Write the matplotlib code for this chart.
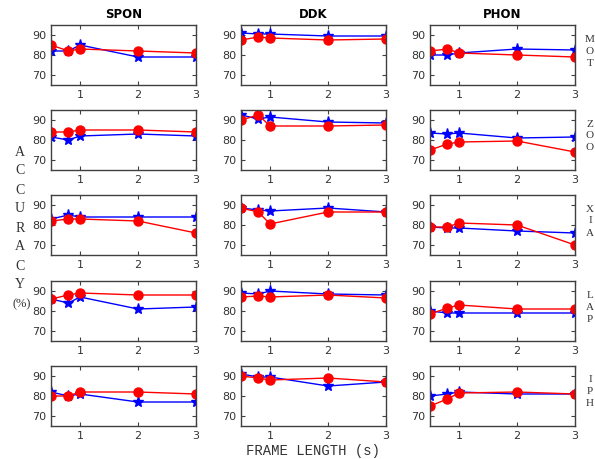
import matplotlib
matplotlib.use("Agg")
import matplotlib.pyplot as plt

# ==============================================================
# DATA
# ==============================================================

frame_len = [0.5, 0.8, 1.0, 2.0, 3.0]
tasks = ["SPON", "DDK", "PHON"]
groups = ["MOT", "ZOO", "XIA", "LAP", "IPH"]

# red circles, one row per group, one list per task
red = {
    "MOT": [[85, 82, 83, 82, 81], [87.5, 89, 88.5, 87.5, 88], [82, 83, 81, 80, 79]],
    "ZOO": [[84, 84, 85, 85, 84], [90, 92.5, 87, 87, 87.5], [75, 78, 79, 79.5, 74]],
    "XIA": [[82, 83, 83, 82, 76], [88.5, 86.5, 80.5, 86.5, 86.5], [79, 79, 81, 80, 70]],
    "LAP": [[86, 88, 89, 88, 88], [87, 87.5, 87, 88, 86.5], [78.5, 81.5, 83, 81, 81]],
    "IPH": [[80, 80, 82, 82, 81], [90, 89, 88, 89, 87], [75, 78.5, 81.5, 82, 81]],
}
# blue stars
blue = {
    "MOT": [[82, 82, 85, 79, 79], [91, 90.5, 90.5, 89.5, 89.5], [80, 80, 81, 83, 82.5]],
    "ZOO": [[81.5, 80, 82, 83, 82], [92.5, 90.5, 91.5, 89, 88.5], [83.5, 83, 83.5, 81, 81.5]],
    "XIA": [[83, 85, 84, 84, 84], [88.5, 87.5, 87, 88.5, 86.5], [79, 78.5, 78.5, 77, 76]],
    "LAP": [[86, 84, 87, 81, 82], [89, 88.5, 90, 88.5, 88], [80, 79, 79, 79, 79]],
    "IPH": [[82, 80, 81, 77, 77], [91, 89.5, 89.5, 85, 87], [80, 81, 82, 81, 81]],
}

# ==============================================================
# FIGURE
# ==============================================================

W, H = 595, 459
fig = plt.figure(figsize=(W / 100, H / 100), dpi=100)

col_left = [51, 241, 430]
col_w = 145
row_top = [25, 110, 195, 281, 366]
row_h = 60

for r, g in enumerate(groups):
    for c, task in enumerate(tasks):
        ax = fig.add_axes([col_left[c] / W, 1 - (row_top[r] + row_h) / H,
                           col_w / W, row_h / H])
        ax.plot(frame_len, blue[g][c], color="blue", marker="*",
                markersize=8, linewidth=1.0)
        ax.plot(frame_len, red[g][c], color="red", marker="o",
                markersize=6.5, linewidth=1.0)
        ax.set_xlim(0.5, 3)
        ax.set_ylim(65, 95)
        ax.set_xticks([1, 2, 3])
        ax.set_yticks([70, 80, 90])
        ax.tick_params(direction="in", top=True, right=True, length=3,
                       labelsize=8, colors="#404040", labelcolor="#333333")
        for sp in ax.spines.values():
            sp.set_color("#404040")
            sp.set_linewidth(1.0)
        if r == 0:
            ax.set_title(task, fontsize=8.5, fontweight="bold", pad=5)

# right-side group labels (stacked letters)
for r, g in enumerate(groups):
    yc = row_top[r] + 26
    for i, ch in enumerate(g):
        fig.text(590 / W, 1 - (yc - 12 + 12 * i) / H, ch, ha="center",
                 va="center", fontsize=8, family="Liberation Serif",
                 color="#333333")

# left-side label
for i, ch in enumerate("ACCURACY"):
    fig.text(20 / W, 1 - (152 + 19 * i) / H, ch, ha="center", va="center",
             fontsize=10, family="Liberation Serif", color="#333333")
fig.text(22 / W, 1 - 304 / H, "(%)", ha="center", va="center",
         fontsize=9, family="Liberation Serif", color="#333333")

fig.text(313 / W, 1 - 451 / H, "FRAME LENGTH (s)", ha="center",
         va="center", fontsize=10, family="Liberation Mono", color="#333333")

fig.savefig("out.png", dpi=100)
